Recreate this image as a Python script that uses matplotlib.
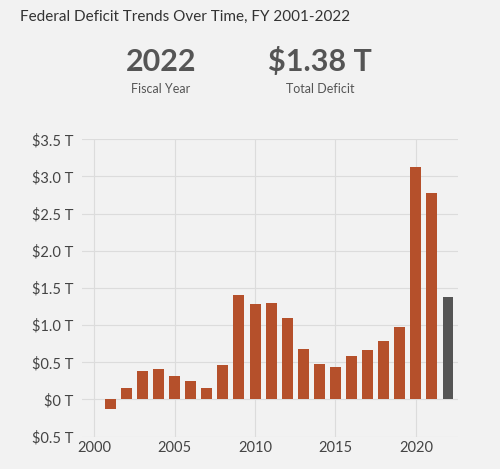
import matplotlib.pyplot as plt

# Federal deficit by fiscal year, trillions of dollars (2001 was a surplus)
years = list(range(2001, 2023))
deficit = [-0.13, 0.16, 0.38, 0.41, 0.32, 0.25, 0.16, 0.46, 1.41, 1.29, 1.30,
           1.09, 0.68, 0.48, 0.44, 0.59, 0.67, 0.78, 0.98, 3.13, 2.78, 1.38]
y_ticks = [-0.5, 0, 0.5, 1.0, 1.5, 2.0, 2.5, 3.0, 3.5]
y_labels = ['$0.5 T', '$0 T', '$0.5 T', '$1.0 T', '$1.5 T', '$2.0 T',
            '$2.5 T', '$3.0 T', '$3.5 T']
x_ticks = [2000, 2005, 2010, 2015, 2020]

bg = '#f2f2f2'
bar_col = '#b5502b'
hi_col = '#555555'

plt.rcParams['font.family'] = ['Lato', 'DejaVu Sans']

fig = plt.figure(figsize=(5, 4.69), dpi=100, facecolor=bg)
ax = fig.add_axes([0.164, 0.069, 0.752, 0.634], facecolor=bg)

colors = [bar_col] * (len(years) - 1) + [hi_col]
ax.bar(years, deficit, width=0.68, color=colors, zorder=3)

ax.set_ylim(-0.5, 3.5)
ax.set_xlim(1999.24, 2022.62)
ax.set_yticks(y_ticks)
ax.set_yticklabels(y_labels)
ax.set_xticks(x_ticks)
ax.grid(True, color='#dcdcdc', linewidth=0.8, zorder=0)
for s in ax.spines.values():
    s.set_visible(False)
ax.tick_params(length=0, labelsize=10.5, colors='#444444', pad=6)
ax.tick_params(axis='x', pad=3)

# header texts
fig.text(0.04, 0.963, 'Federal Deficit Trends Over Time, FY 2001-2022',
         fontsize=11, color='#333333', va='center', ha='left')
fig.text(0.322, 0.868, '2022', fontsize=22, fontweight='bold',
         color='#555555', ha='center', va='center')
fig.text(0.322, 0.81, 'Fiscal Year', fontsize=9, color='#555555',
         ha='center', va='center')
fig.text(0.64, 0.868, '$1.38 T', fontsize=22, fontweight='bold',
         color='#555555', ha='center', va='center')
fig.text(0.64, 0.81, 'Total Deficit', fontsize=9, color='#555555',
         ha='center', va='center')

fig.savefig('out.png', dpi=100, facecolor=bg)
